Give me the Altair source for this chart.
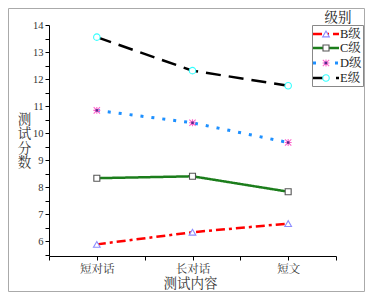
import altair as alt
import pandas as pd

categories = ["短对话", "长对话", "短文"]
series_names = ["B级", "C级", "D级", "E级"]
b_vals = [5.88, 6.33, 6.65]
c_vals = [8.33, 8.40, 7.83]
d_vals = [10.84, 10.38, 9.65]
e_vals = [13.55, 12.31, 11.75]
x_title = "测试内容"
y_title = "测试分数"
legend_title = "级别"

all_vals = [b_vals, c_vals, d_vals, e_vals]
rows = []
for s, vals in zip(series_names, all_vals):
    for i, (cat, v) in enumerate(zip(categories, vals)):
        rows.append({"idx": i, "cat": cat, "series": s, "value": v})
df = pd.DataFrame(rows)

FONT = "Liberation Serif, Noto Serif CJK SC, Noto Sans CJK SC"
D_SHAPE = "M-1,-1L1,1M-1,1L1,-1M0,-1.1L0,1.1M-1.1,0L1.1,0"

styles = {
    "B级": dict(color="#ff0000", dash=[9, 4, 3, 4], width=2.5, shape="triangle-up", mstroke="#8c8cff", mfill="white", size=45),
    "C级": dict(color="#1b7d1b", dash=[1, 0], width=2.5, shape="square", mstroke="#555555", mfill="white", size=36),
    "D级": dict(color="#1e90ff", dash=[3, 8], width=3, shape=D_SHAPE, mstroke="#ff66cc", mfill="none", size=40),
    "E级": dict(color="#000000", dash=[15, 8], width=2.5, shape="circle", mstroke="#33ffff", mfill="white", size=42),
}

half_vals = [v / 2 for v in range(11, 29)]
x_vals = [-0.5, 0, 0.5, 1, 1.5, 2, 2.5]
label_expr = "datum.value == 0 ? '%s' : datum.value == 1 ? '%s' : datum.value == 2 ? '%s' : ''" % tuple(categories)

x_scale = alt.Scale(domain=[-0.5, 2.5], nice=False, zero=False)
y_scale = alt.Scale(domain=[5.45, 14], nice=False, zero=False)

x_axis = alt.Axis(values=x_vals, labelExpr=label_expr, title=x_title, grid=False,
                  tickSize=4, labelFontSize=11.5, labelPadding=3, titleFontSize=13.5,
                  titleX=141, titleY=27, titleBaseline="middle", titleAlign="center",
                  titleFontWeight="normal")
y_axis = alt.Axis(values=half_vals, labelExpr="datum.value % 1 == 0 ? datum.value : ''",
                  title=list(y_title), titleAngle=0, titleX=-25, titleY=87, titleAlign="center",
                  titleBaseline="top", titleLineHeight=14.5, titleFontSize=13.5, grid=False,
                  tickSize=4, labelFontSize=10.5, labelPadding=2, titleFontWeight="normal")

X = alt.X("idx:Q", scale=x_scale, axis=x_axis)
Y = alt.Y("value:Q", scale=y_scale, axis=y_axis)

layers = []
for s in series_names:
    st = styles[s]
    base = alt.Chart(df).transform_filter(alt.datum.series == s)
    layers.append(base.mark_line(color=st["color"], strokeDash=st["dash"], strokeWidth=st["width"]).encode(x=X, y=Y))

for s in series_names:
    st = styles[s]
    base = alt.Chart(df).transform_filter(alt.datum.series == s)
    layers.append(base.mark_point(shape=st["shape"], stroke=st["mstroke"], fill=st["mfill"], filled=st["mfill"] != "none",
                                  size=st["size"], strokeWidth=1.1, opacity=1).encode(x=X, y=Y))
    if s == "D级":
        layers.append(base.mark_square(color="#5a2a8a", size=6, opacity=1).encode(x=X, y=Y))

dummy = pd.DataFrame({"a": [0]})
# outer frame
layers.append(alt.Chart(dummy).mark_rect(fill=None, stroke="#aaaaaa", strokeWidth=1).encode(
    x=alt.value(-40.5), x2=alt.value(315.5), y=alt.value(-16.5), y2=alt.value(266.5)))
# legend box
layers.append(alt.Chart(dummy).mark_rect(fill="white", stroke="#888888", strokeWidth=1).encode(
    x=alt.value(263.5), x2=alt.value(314.5), y=alt.value(0.5), y2=alt.value(61.5)))
layers.append(alt.Chart(dummy).mark_text(text=legend_title, font=FONT, fontSize=13.5, align="center",
                                         baseline="middle", color="#222222").encode(
    x=alt.value(289), y=alt.value(-7)))
leg_y = [9, 23, 38, 53]
for s, ly in zip(series_names, leg_y):
    st = styles[s]
    layers.append(alt.Chart(dummy).mark_rule(color=st["color"], strokeDash=st["dash"], strokeWidth=st["width"]).encode(
        x=alt.value(264), x2=alt.value(290), y=alt.value(ly)))
    layers.append(alt.Chart(dummy).mark_point(shape=st["shape"], stroke=st["mstroke"], fill=st["mfill"],
                                              filled=st["mfill"] != "none", size=st["size"], strokeWidth=1.1,
                                              opacity=1).encode(
        x=alt.value(277), y=alt.value(ly)))
    if s == "D级":
        layers.append(alt.Chart(dummy).mark_square(color="#5a2a8a", size=6, opacity=1).encode(
            x=alt.value(277), y=alt.value(ly)))
    layers.append(alt.Chart(dummy).mark_text(text=s, font=FONT, fontSize=12.5, align="left",
                                             baseline="middle", color="#222222").encode(
        x=alt.value(291), y=alt.value(ly)))

chart = alt.layer(*layers).properties(
    width=287, height=231,
    padding={"left": 41, "top": 17, "right": 29, "bottom": 36},
    autosize=alt.AutoSizeParams(type="none"),
).configure_view(stroke=None).configure_axis(
    domainColor="#000000", tickColor="#000000", labelColor="#333333", titleColor="#333333",
    labelFont=FONT, titleFont=FONT, domainWidth=1, tickWidth=1,
)

chart.save("out.html", embed_options={"renderer": "svg", "actions": False})
